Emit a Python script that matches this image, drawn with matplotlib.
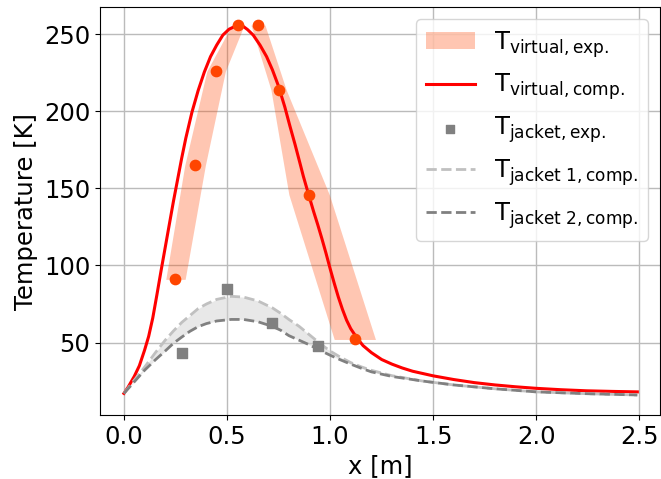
import numpy as np
import matplotlib
matplotlib.use("Agg")
import matplotlib.pyplot as plt

# experimental virtual temperature (points + horizontal position uncertainty)
x_exp = [0.25, 0.345, 0.447, 0.553, 0.65, 0.75, 0.898, 1.12]
T_exp = [91, 165, 226, 256, 256, 214, 146, 52]
dx_exp = [0.047, 0.05, 0.045, 0.03, 0.034, 0.037, 0.098, 0.1]

# computed virtual temperature
x_virt = [0.0, 0.02, 0.05, 0.075, 0.1, 0.12, 0.14, 0.16, 0.18, 0.2,
          0.22, 0.24, 0.26, 0.28, 0.3, 0.33, 0.36, 0.39, 0.42, 0.45,
          0.48, 0.51, 0.54, 0.56, 0.58, 0.6, 0.627, 0.66, 0.692, 0.72,
          0.748, 0.78, 0.805, 0.83, 0.854, 0.87, 0.894, 0.92, 0.94, 0.96,
          0.98, 1.0, 1.02, 1.04, 1.06, 1.08, 1.1, 1.13, 1.16, 1.2,
          1.25, 1.3, 1.35, 1.4, 1.5, 1.6, 1.7, 1.8, 1.9, 2.0,
          2.12, 2.244, 2.37, 2.49]
T_virt = [17, 21, 28, 35, 45, 54, 66, 81, 96.5, 111.5,
          126.5, 141.5, 155.5, 169.5, 182.5, 199.5, 213.5, 225.5, 235.5, 243,
          249.5, 253.3, 255.2, 255.5, 255, 253, 249.5, 243, 235.5, 227,
          217, 203, 190.5, 178.5, 166.3, 158, 146.8, 135, 126.5, 117.5,
          108, 98, 88.5, 79.5, 71.5, 64.5, 59, 53, 48, 43.5,
          39, 36, 33.5, 31.4, 28.4, 26, 24, 22.5, 21.3, 20.3,
          19.4, 18.7, 18.3, 18]

# jacket temperatures
x_jack_exp = [0.28, 0.5, 0.72, 0.94]
T_jack_exp = [43, 85, 63, 48]

x_jack = [0.0, 0.05, 0.1, 0.15, 0.2, 0.24, 0.28, 0.32, 0.36, 0.4, 0.45, 0.52,
          0.58, 0.65, 0.72, 0.76, 0.8, 0.85, 0.9, 0.95, 1.0, 1.05, 1.1, 1.15,
          1.2, 1.3, 1.45, 1.6, 1.8, 2.0, 2.25, 2.49]
T_jack1 = [17, 25.5, 34, 43, 51.5, 57.5, 63, 67.5, 72, 75, 78, 80,
           79.5, 77, 72.5, 69, 65, 60.5, 55, 49.5, 44.5, 40.5, 37, 34.3,
           32, 28.5, 25, 22.5, 20, 18, 16.8, 16]
T_jack2 = [17, 24.5, 32, 38.5, 44.5, 49.5, 53.5, 57.3, 60.3, 62.3, 64, 65,
           65, 63.5, 60.5, 58, 54.5, 51.5, 48.5, 45, 41.8, 38.8, 36, 33.4,
           31, 28, 25, 22.5, 20, 18, 16.8, 16]

plt.rcParams['font.size'] = 17.5

fig = plt.figure(figsize=(6.61, 4.79), dpi=100)
ax = fig.add_axes([100/661, 1-415/479, 560/661, 408/479])

xe = np.array(x_exp)
de = np.array(dx_exp)
ax.fill_betweenx(T_exp, xe-de, xe+de, color='orangered', alpha=0.3,
                 linewidth=0, label=r'$\mathrm{T_{virtual, exp.}}$')
ax.fill_between(x_jack, T_jack1, T_jack2, color='lightgray', alpha=0.5, linewidth=0)
ax.plot(x_virt, T_virt, color='red', lw=2.2, label=r'$\mathrm{T_{virtual, comp.}}$')
ax.scatter(x_exp, T_exp, color='orangered', s=55, zorder=3)
ax.scatter(x_jack_exp, T_jack_exp, color='gray', marker='s', s=50, zorder=3,
           label=r'$\mathrm{T_{jacket, exp.}}$')
ax.plot(x_jack, T_jack1, color='silver', ls='--', lw=2,
        label=r'$\mathrm{T_{jacket\ 1, comp.}}$')
ax.plot(x_jack, T_jack2, color='gray', ls='--', lw=2,
        label=r'$\mathrm{T_{jacket\ 2, comp.}}$')

ax.set_xlim(-0.116, 2.60)
ax.set_ylim(3, 267.7)
ax.set_xticks([0.0, 0.5, 1.0, 1.5, 2.0, 2.5])
ax.set_yticks([50, 100, 150, 200, 250])
ax.grid(color='#bbbbbb', lw=1)
ax.set_axisbelow(True)
ax.set_xlabel("x [m]")
ax.set_ylabel("Temperature [K]")
ax.legend(loc='upper right', markerscale=0.85)

plt.savefig("out.png", dpi=100)
